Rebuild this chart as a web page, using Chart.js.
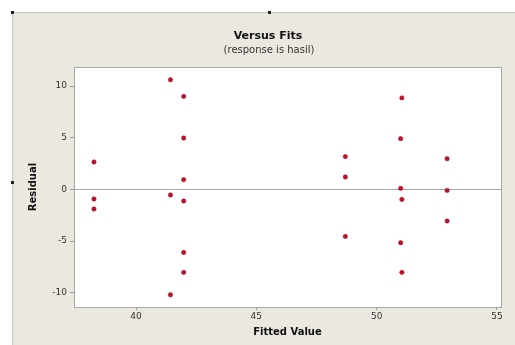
<!DOCTYPE html>
<html>
<head>
<meta charset="utf-8">
<script src="https://cdn.jsdelivr.net/npm/chart.js@4"></script>
<style>
  body { margin: 0; background: #ffffff; }
  canvas { display: block; }
</style>
</head>
<body>
<canvas id="fitsChart" width="515" height="345"></canvas>
<script>
// fitted values and residuals
var fittedValues = [38.25, 38.25, 38.25,
                    41.43, 41.43, 41.43,
                    41.98, 41.98, 41.98, 41.98, 41.98, 41.98,
                    48.70, 48.70, 48.70,
                    51.05, 51.00, 51.00, 51.05, 51.00, 51.05,
                    52.93, 52.93, 52.93];
var residuals = [2.65, -0.93, -1.9,
                 10.6, -0.54, -10.2,
                 9.0, 4.97, 0.94, -1.13, -6.1, -8.03,
                 3.17, 1.2, -4.55,
                 8.85, 4.91, 0.1, -0.97, -5.16, -8.03,
                 2.97, -0.1, -3.06];
var xTicks = [40, 45, 50, 55];
var yTicks = [-10, -5, 0, 5, 10];

var points = fittedValues.map(function (v, i) {
    return { x: v, y: residuals[i] };
});

var frame = {
    id: 'frame',
    beforeDraw: function (chart) {
        var ctx = chart.ctx;
        var a = chart.chartArea;
        ctx.save();
        ctx.fillStyle = '#ebe8e0';
        ctx.fillRect(13, 12, 502, 333);
        ctx.fillStyle = '#c9c5be';
        ctx.fillRect(13, 12, 502, 1);
        ctx.fillRect(12, 12, 1, 333);
        ctx.fillStyle = '#222';
        ctx.fillRect(11, 11, 3, 3);
        ctx.fillRect(268, 11, 3, 3);
        ctx.fillRect(11, 181, 3, 3);
        ctx.fillStyle = '#ffffff';
        ctx.fillRect(a.left, a.top, a.right - a.left, a.bottom - a.top);
        ctx.fillStyle = '#111';
        ctx.textAlign = 'center';
        ctx.textBaseline = 'middle';
        ctx.font = 'bold 11px "DejaVu Sans"';
        ctx.fillText('Versus Fits', 268, 36);
        ctx.font = '10px "DejaVu Sans"';
        ctx.fillStyle = '#333';
        ctx.fillText('(response is hasil)', 269, 50);
        ctx.restore();
    },
    beforeDatasetsDraw: function (chart) {
        var ctx = chart.ctx;
        var a = chart.chartArea;
        var y0 = chart.scales.y.getPixelForValue(0);
        ctx.save();
        ctx.strokeStyle = '#a8a8a8';
        ctx.lineWidth = 1;
        ctx.beginPath();
        ctx.moveTo(a.left, Math.round(y0) + 0.5);
        ctx.lineTo(a.right, Math.round(y0) + 0.5);
        ctx.stroke();
        ctx.strokeRect(a.left + 0.5, a.top + 0.5, a.right - a.left, a.bottom - a.top);
        ctx.restore();
    }
};

var ctx = document.getElementById('fitsChart').getContext('2d');
var fitsChart = new Chart(ctx, {
    type: 'scatter',
    data: {
        datasets: [{
            label: 'Residual',
            data: points,
            backgroundColor: '#c0102c',
            borderColor: '#9a0e26',
            borderWidth: 0.5,
            pointRadius: 2.2
        }]
    },
    options: {
        responsive: false,
        animation: false,
        layout: { padding: { left: 13, right: 14, top: 67, bottom: 0 } },
        plugins: {
            legend: { display: false },
            tooltip: { enabled: false }
        },
        scales: {
            x: {
                type: 'linear',
                min: 37.42,
                max: 55.17,
                afterBuildTicks: function (s) {
                    s.ticks = xTicks.map(function (v) { return { value: v }; });
                },
                afterFit: function (s) { s.height = 38; },
                grid: { drawOnChartArea: false, tickLength: 3, color: '#999' },
                border: { color: '#a8a8a8' },
                ticks: { color: '#333', padding: 1, maxRotation: 0, font: { family: 'DejaVu Sans', size: 9 } },
                title: {
                    display: true,
                    text: 'Fitted Value',
                    color: '#111',
                    padding: { top: 0, bottom: 7 },
                    font: { family: 'DejaVu Sans', size: 10, weight: 'bold' }
                }
            },
            y: {
                type: 'linear',
                min: -11.38,
                max: 11.84,
                afterBuildTicks: function (s) {
                    s.ticks = yTicks.map(function (v) { return { value: v }; });
                },
                afterFit: function (s) { s.width = 61; },
                grid: { drawOnChartArea: false, tickLength: 4, color: '#999' },
                border: { color: '#a8a8a8' },
                ticks: { color: '#333', padding: 3, font: { family: 'DejaVu Sans', size: 9 } },
                title: {
                    display: true,
                    text: 'Residual',
                    color: '#111',
                    padding: { top: 14, bottom: 0 },
                    font: { family: 'DejaVu Sans', size: 10, weight: 'bold' }
                }
            }
        }
    },
    plugins: [frame]
});
</script>
</body>
</html>
